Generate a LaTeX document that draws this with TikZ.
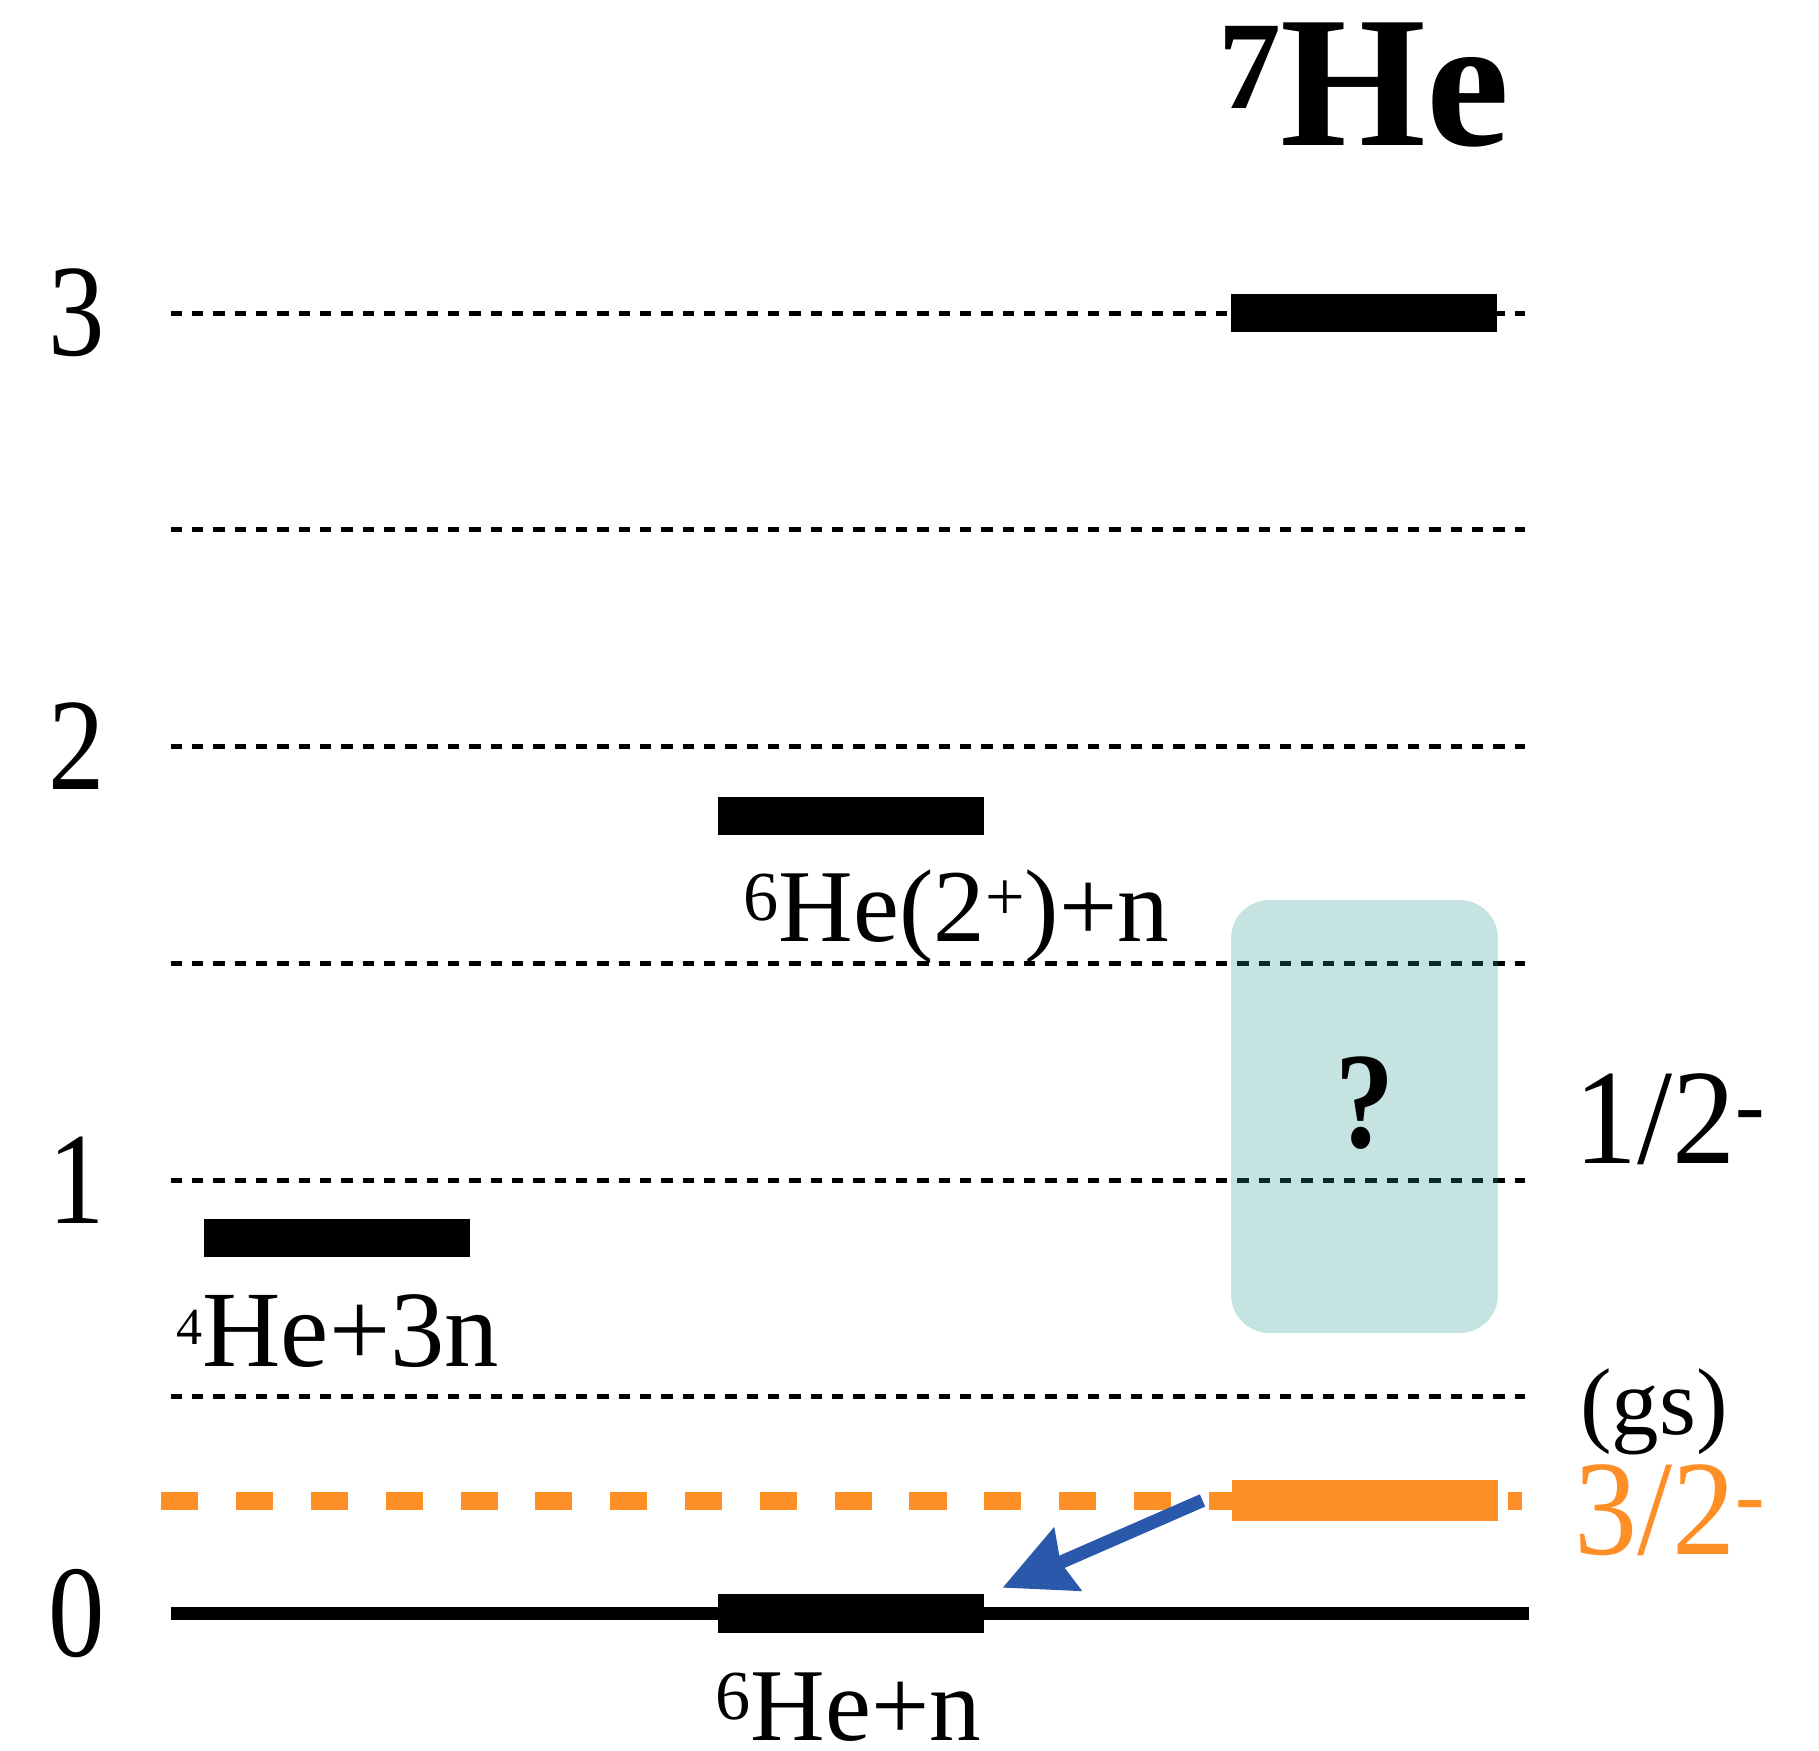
\documentclass[tikz,border=0pt]{standalone}
\usepackage{fontspec}
\setmainfont{Liberation Serif}
\newfontfamily\narrowserif[FakeStretch=0.86]{Liberation Serif}
\newfontfamily\spinserif[FakeStretch=0.93]{Liberation Serif}
\usepackage{tikz}
\usetikzlibrary{arrows.meta,positioning}
\definecolor{HeOrange}{HTML}{FD8F26}
\definecolor{HeBlue}{HTML}{2A59AC}
\definecolor{HeTeal}{HTML}{28968F}
\newcommand{\nuc}[2][0.68]{\raisebox{0.2em}{\scalebox{#1}{#2}}}
\tikzset{
  levelbar/.style={fill=black,minimum width=2.656cm,minimum height=0.383cm,inner sep=0pt},
  gsbar/.style={levelbar,fill=HeOrange,minimum height=0.406cm},
  guide/.style={line width=1.39pt,dash pattern=on 3.3pt off 2.77pt},
  threshold/.style={line width=3.63pt},
  gsguide/.style={draw=HeOrange,line width=5.1pt,dash pattern=on 10.56pt off 10.73pt},
  unknown/.style={fill=HeTeal,fill opacity=0.27,rounded corners=0.38cm,minimum width=2.668cm,minimum height=4.327cm,inner sep=0pt},
  decay/.style={-{Stealth[length=20pt,width=19pt,inset=2pt]},line width=3.8pt,draw=HeBlue},
  axisnum/.style={inner sep=0pt,font=\narrowserif\fontsize{37.3}{40}\selectfont},
  chan/.style={inner sep=0pt,anchor=base,font=\fontsize{29.4}{32}\selectfont},
  spin/.style={inner sep=0pt,anchor=base east,font=\spinserif\fontsize{38.6}{42}\selectfont}
}

\begin{document}
\begin{tikzpicture}[x=1cm,y=4.335cm]
  \useasboundingbox (0,-0.3158) rectangle (18.19,3.7222);
  % energy grid (MeV)
  \foreach \e in {0.5,1,...,3}
    \draw[guide] (1.705,\e) -- (15.254,\e);
  \draw[threshold] (1.705,0) -- (15.29,0);
  \draw[gsguide] (1.612,0.26) -- (15.22,0.26);
  \foreach \e in {0,...,3}
    \node[axisnum] (axis\e) at (0.77,\e) {\e};
  % thresholds
  \node[levelbar] (he4) at (3.37,0.866) {};
  \node[levelbar] (he6ex) at (8.51,1.84) {};
  \node[levelbar] (he6) at (8.51,0) {};
  \node[chan,font=\fontsize{30.9}{34}\selectfont] (he4lbl) at (3.376,0.57) {\nuc[0.48]{4}He+3n};
  \node[chan] (he6exlbl) at (9.564,1.55) {\nuc{6}He(2\nuc{+})+n};
  \node[chan] (he6lbl) at (8.485,-0.292) {\nuc{6}He+n};
  % 7He levels
  \node[chan,font=\bfseries\fontsize{53.3}{56}\selectfont] (he7) at (13.64,3.386) {\nuc[0.67]{7}He};
  \node[levelbar] (he7top) at (13.64,3) {};
  \node[unknown] (qbox) at (13.645,1.1466) {};
  \node[chan,font=\narrowserif\bfseries\fontsize{39}{42}\selectfont] (qmark) at (13.65,1.075) {?};
  \node[gsbar] (gs) at (13.65,0.261) {};
  \node[spin] (halfspin) at (17.655,1.038) {1/2\nuc[0.7]{-}};
  \node[chan,font=\fontsize{27}{30}\selectfont] (gslbl) at (16.54,0.413) {(gs)};
  \node[spin,text=HeOrange] (gsspin) at (17.655,0.1373) {3/2\nuc[0.7]{-}};
  \draw[decay] ([xshift=-2.9mm]gs.west) -- ([shift={(1.8mm,0.6mm)}]he6.north east);
\end{tikzpicture}
\end{document}
